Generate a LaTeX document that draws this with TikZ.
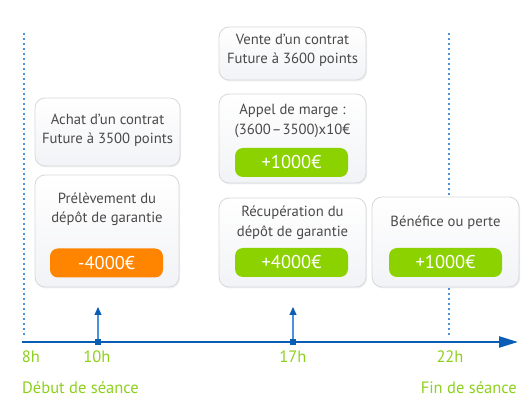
\documentclass[tikz,border=0pt]{standalone}
\usepackage{fontspec}
\setmainfont{PT Sans}
\usetikzlibrary{shadows,arrows.meta}
\definecolor{axisblue}{HTML}{0A5DB5}
\definecolor{dotblue}{HTML}{4A92DC}
\definecolor{limegreen}{HTML}{8CD200}
\definecolor{labelgreen}{HTML}{8DD01E}
\definecolor{pillorange}{HTML}{FF8400}
\definecolor{boxline}{HTML}{D6D8DB}
\definecolor{boxlow}{HTML}{F2F3F6}
\definecolor{txtgray}{HTML}{4A4A4A}
\tikzset{
  eventbox/.style={draw=boxline, line width=0.8pt, rounded corners=10pt, top color=white, bottom color=boxlow,
    drop shadow={opacity=0.12, shadow xshift=1pt, shadow yshift=-1.5pt}},
  pill/.style={fill=#1, rounded corners=8pt, minimum width=113pt, minimum height=29pt, inner sep=0pt,
    text=white, font=\fontsize{18.5}{18.5}\selectfont},
  boxtext/.style={text=txtgray, align=center, font=\fontsize{14.7}{19.5}\selectfont},
  hourlbl/.style={text=labelgreen, font=\fontsize{16.5}{16.5}\selectfont},
  timedot/.style={dotblue, line width=1.6pt, dash pattern=on 1.6pt off 3.4pt}
}
\begin{document}
\begin{tikzpicture}[x=1pt, y=-1pt]
        \useasboundingbox (0,0) rectangle (530,411);
        \draw[timedot] (24,33) -- (24,338);
        \draw[timedot] (449,33) -- (449,336);

        \node[eventbox, minimum width=145pt, minimum height=68pt] (achat) at (107.5,132) {};
        \node[eventbox, minimum width=144pt, minimum height=112pt] (prelev) at (107,231) {};
        \node[eventbox, minimum width=147pt, minimum height=53pt] (vente) at (292.5,53.5) {};
        \node[eventbox, minimum width=147pt, minimum height=89pt] (appel) at (292.5,138.5) {};
        \node[eventbox, minimum width=147pt, minimum height=89pt] (recup) at (292.5,242.5) {};
        \node[eventbox, minimum width=147pt, minimum height=90pt] (benef) at (445.5,242) {};

        \node[boxtext] (achattxt) at (107.5,130) {Achat d’un contrat\\Future à 3500 points};
        \node[boxtext] (prelevtxt) at (107,209.5) {Prélèvement du\\dépôt de garantie};
        \node[boxtext] (ventetxt) at (292.5,50.5) {Vente d’un contrat\\Future à 3600 points};
        \node[boxtext] (appeltxt) at (292.5,121) {Appel de marge :\\(3600\kern1pt–\kern1pt3500)x10€};
        \node[boxtext] (recuptxt) at (292.5,223) {Récupération du\\dépôt de garantie};
        \node[boxtext] (beneftxt) at (445.5,223) {Bénéfice ou perte};

        \node[pill=pillorange] (moins) at (106.5,263) {-4000€};
        \node[pill=limegreen] (marge) at (291.5,162.5) {+1000€};
        \node[pill=limegreen] (rendu) at (291.5,262.5) {+4000€};
        \node[pill=limegreen] (gain) at (445.5,262.5) {+1000€};

        \coordinate (start) at (22,342);
        \coordinate (end) at (518,342);
        \draw[axisblue, line width=2.4pt, -{Triangle[length=19pt, width=11pt]}] (start) -- (end);

        \coordinate (t10) at (98,342);
        \coordinate (t10up) at (98,307);
        \coordinate (t17) at (293,342);
        \coordinate (t17up) at (293,307);
        \draw[dotblue, line width=1.1pt, -{Triangle[length=8pt, width=7pt, color=axisblue, fill=axisblue]}] (t10) -- (t10up);
        \draw[dotblue, line width=1.1pt, -{Triangle[length=8pt, width=7pt, color=axisblue, fill=axisblue]}] (t17) -- (t17up);
        \fill[axisblue] (t10) +(-3,-3) rectangle +(3,3);
        \fill[axisblue] (t17) +(-3,-3) rectangle +(3,3);

        \node[hourlbl] (h8) at (31,357) {8h};
        \node[hourlbl] (h10) at (97,357) {10h};
        \node[hourlbl] (h17) at (293,357) {17h};
        \node[hourlbl] (h22) at (450,357) {22h};
        \node[hourlbl, anchor=west, inner sep=0pt] (debut) at (22,388) {Début de séance};
        \node[hourlbl, anchor=east, inner sep=0pt] (fin) at (517,388) {Fin de séance};
\end{tikzpicture}
\end{document}
